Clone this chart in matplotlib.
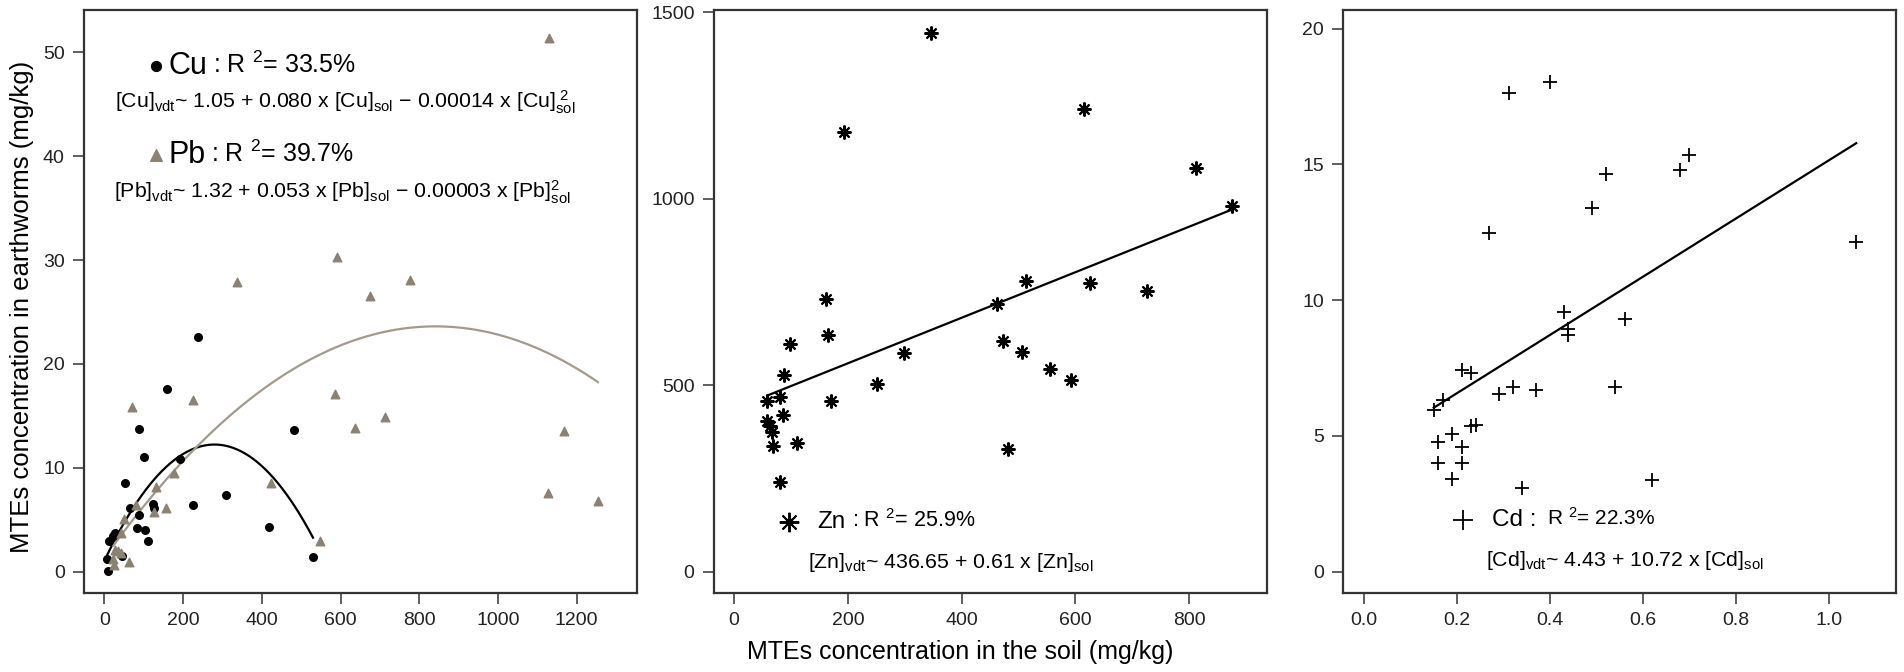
import numpy as np
import matplotlib
matplotlib.use('Agg')
import matplotlib.pyplot as plt

plt.rcParams['font.family'] = ['Liberation Sans', 'DejaVu Sans']
plt.rcParams['mathtext.fontset'] = 'custom'
plt.rcParams['mathtext.rm'] = 'Liberation Sans'
plt.rcParams['mathtext.it'] = 'Liberation Sans:italic'
plt.rcParams['mathtext.bf'] = 'Liberation Sans:bold'

# Cu (soil, earthworm) in mg/kg
cu_sol = [9, 7, 12, 21, 28, 45, 53, 64, 82, 88, 88, 101, 104, 110, 123, 127,
          160, 193, 225, 239, 309, 419, 483, 530]
cu_vdt = [0.1, 1.2, 3.0, 3.4, 3.7, 1.5, 8.5, 6.1, 4.2, 5.5, 13.7, 11.0, 4.0, 3.0, 6.5, 6.1,
          17.6, 10.8, 6.4, 22.6, 7.4, 4.3, 13.6, 1.4]
cu_coef = [1.05, 0.080, -0.000143]

# Pb
pb_sol = [24, 23, 27, 34, 41, 41, 50, 63, 69, 80, 127, 132, 156, 177, 225, 338,
          423, 547, 585, 591, 637, 676, 712, 776, 1128, 1130, 1168, 1254]
pb_vdt = [0.6, 1.25, 2.1, 2.0, 1.8, 3.7, 5.1, 0.9, 15.9, 6.4, 5.75, 8.2, 6.1, 9.5, 16.5, 27.9,
          8.5, 3.0, 17.1, 30.3, 13.8, 26.5, 14.9, 28.1, 7.6, 51.4, 13.5, 6.8]
pb_coef = [1.32, 0.053, -0.0000315]

# Zn
zn_sol = [347, 193, 615, 813, 876, 162, 513, 463, 626, 726, 165, 98, 299, 472, 506,
          555, 593, 88, 252, 58, 81, 170, 86, 58, 63, 66, 69, 111, 481, 81]
zn_vdt = [1444, 1179, 1240, 1082, 979, 731, 779, 717, 773, 752, 635, 611, 587, 618, 588,
          543, 514, 526, 503, 458, 467, 458, 421, 404, 390, 374, 336, 346, 328, 241]
zn_coef = [436.65, 0.61]

# Cd
cd_sol = [0.311, 0.400, 0.700, 0.679, 0.520, 0.490, 0.270, 1.059, 0.430, 0.561,
          0.44, 0.44, 0.21, 0.23, 0.29, 0.32, 0.37, 0.539, 0.17, 0.15,
          0.23, 0.242, 0.19, 0.16, 0.211, 0.16, 0.211, 0.19, 0.34, 0.62]
cd_vdt = [17.64, 18.05, 15.36, 14.80, 14.64, 13.41, 12.47, 12.16, 9.56, 9.31,
          8.95, 8.70, 7.42, 7.31, 6.54, 6.79, 6.70, 6.80, 6.33, 5.96,
          5.38, 5.39, 5.08, 4.77, 4.60, 3.99, 3.99, 3.40, 3.10, 3.36]
cd_coef = [4.43, 10.72]

PB_COL = '#8c8273'
PB_LINE = '#a39a8e'
FRAME = '#333333'
EQ_SIZE = 15.3


def style(ax):
    for s in ax.spines.values():
        s.set_color(FRAME)
        s.set_linewidth(1.6)
    ax.tick_params(direction='out', length=8, width=1.1, labelsize=14, pad=6,
                   color=FRAME, labelcolor='#222222')


def poly(coef, x):
    return sum(c * x ** i for i, c in enumerate(coef))


def label(ax, x, y, name, rest, big, small, gap=4):
    t = ax.text(x, y, name, fontsize=big, va='center')
    ax.annotate(rest, xy=(1, 0.5), xycoords=t, xytext=(gap, 1),
                textcoords='offset points', fontsize=small, va='center')


fig = plt.figure(figsize=(19.04, 6.72), dpi=100)
W, H = 1904.0, 672.0
bottom = (H - 592.7) / H
height = (592.7 - 9.7) / H

# ---- left panel: Cu and Pb ----
ax1 = fig.add_axes([84.3 / W, bottom, (637.3 - 84.3) / W, height])
ax1.scatter(cu_sol, cu_vdt, s=30, color='black', zorder=3)
ax1.scatter(pb_sol, pb_vdt, s=38, marker='^', color=PB_COL, zorder=3)
xc = np.linspace(min(cu_sol), max(cu_sol), 200)
ax1.plot(xc, poly(cu_coef, xc), color='black', lw=1.6)
xp = np.linspace(min(pb_sol), max(pb_sol), 200)
ax1.plot(xp, poly(pb_coef, xp), color=PB_LINE, lw=1.6)
ax1.set_xlim(-51, 1354)
ax1.set_ylim(-2.02, 54.09)
ax1.set_xticks([0, 200, 400, 600, 800, 1000, 1200])
ax1.set_yticks([0, 10, 20, 30, 40, 50])
style(ax1)

ax1.scatter([130], [48.7], s=50, color='black', clip_on=False)
label(ax1, 163, 48.7, 'Cu', ': R $^{2}$= 33.5%', 22, 18)
ax1.text(27, 45.2, r'[Cu]$_{\mathrm{vdt}}$~ 1.05 + 0.080 x [Cu]$_{\mathrm{sol}}$ '
         '\u2212 0.00014 x [Cu]$_{\mathrm{sol}}^{\/\/2}$', fontsize=EQ_SIZE, va='center')
ax1.scatter([130], [40.1], s=70, marker='^', color=PB_COL, clip_on=False)
label(ax1, 163, 40.1, 'Pb', ': R $^{2}$= 39.7%', 22, 18)
ax1.text(25, 36.5, r'[Pb]$_{\mathrm{vdt}}$~ 1.32 + 0.053 x [Pb]$_{\mathrm{sol}}$ '
         '\u2212 0.00003 x [Pb]$_{\mathrm{sol}}^{2}$', fontsize=EQ_SIZE, va='center')

# ---- middle panel: Zn ----
ax2 = fig.add_axes([714.0 / W, bottom, (1266.7 - 714.0) / W, height])
ax2.plot(zn_sol, zn_vdt, linestyle='none', marker=(8, 2, 0), markersize=10,
         markeredgewidth=1.5, color='black')
xz = np.linspace(min(zn_sol), max(zn_sol), 50)
ax2.plot(xz, poly(zn_coef, xz), color='black', lw=1.6)
ax2.set_xlim(-35.5, 936.6)
ax2.set_ylim(-56.3, 1506.4)
ax2.set_xticks([0, 200, 400, 600, 800])
ax2.set_yticks([0, 500, 1000, 1500])
style(ax2)
ax2.plot([97], [134], marker=(8, 2, 0), markersize=14, markeredgewidth=1.4, color='black')
label(ax2, 146, 134, 'Zn', ': R $^{2}$= 25.9%', 17.5, 15.5, gap=5)
ax2.text(130, 24, r'[Zn]$_{\mathrm{vdt}}$~ 436.65 + 0.61 x [Zn]$_{\mathrm{sol}}$',
         fontsize=EQ_SIZE, va='center')

# ---- right panel: Cd ----
ax3 = fig.add_axes([1343.3 / W, bottom, (1895.7 - 1343.3) / W, height])
ax3.plot(cd_sol, cd_vdt, linestyle='none', marker='+', markersize=10,
         markeredgewidth=1.3, color='black')
xd = np.linspace(min(cd_sol), max(cd_sol), 50)
ax3.plot(xd, poly(cd_coef, xd), color='black', lw=1.6)
ax3.set_xlim(-0.0445, 1.144)
ax3.set_ylim(-0.774, 20.7)
ax3.set_xticks([0.0, 0.2, 0.4, 0.6, 0.8, 1.0])
ax3.set_xticklabels(['0.0', '0.2', '0.4', '0.6', '0.8', '1.0'])
ax3.set_yticks([0, 5, 10, 15, 20])
style(ax3)
ax3.plot([0.213], [1.92], marker='+', markersize=15, markeredgewidth=1.3, color='black')
label(ax3, 0.275, 1.92, 'Cd :', 'R $^{2}$= 22.3%', 17.5, 15, gap=8)
ax3.text(0.262, 0.40, r'[Cd]$_{\mathrm{vdt}}$~ 4.43 + 10.72 x [Cd]$_{\mathrm{sol}}$',
         fontsize=EQ_SIZE, va='center')

fig.text(22 / W, 1 - 307 / H, 'MTEs concentration in earthworms (mg/kg)',
         rotation=90, fontsize=18.5, ha='center', va='center')
fig.text(960 / W, 1 - 652 / H, 'MTEs concentration in the soil (mg/kg)',
         fontsize=18, ha='center', va='center')

fig.savefig('out.png', dpi=100)
